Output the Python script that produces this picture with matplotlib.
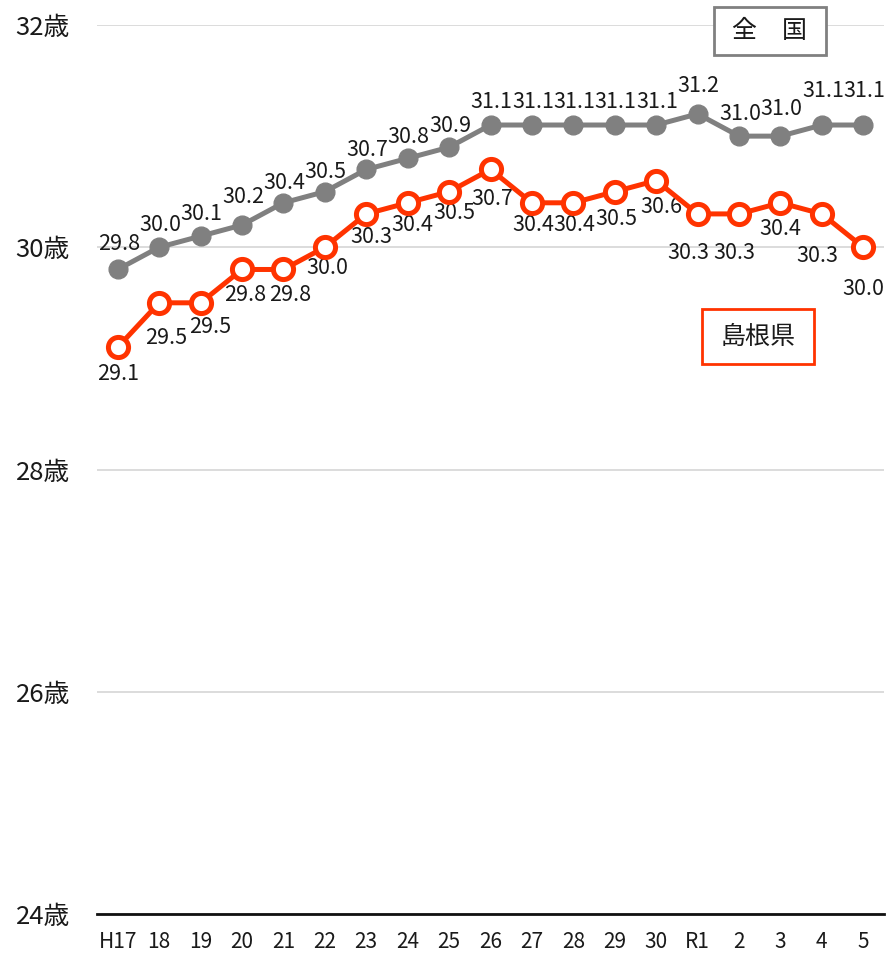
import matplotlib
matplotlib.use("Agg")
import matplotlib.pyplot as plt
from matplotlib.ticker import FixedLocator
from matplotlib.patches import Rectangle

plt.rcParams['font.family'] = ['Noto Sans CJK JP', 'DejaVu Sans']

categories = ["H17", "18", "19", "20", "21", "22", "23", "24", "25", "26",
              "27", "28", "29", "30", "R1", "2", "3", "4", "5"]
national = [29.8, 30.0, 30.1, 30.2, 30.4, 30.5, 30.7, 30.8, 30.9, 31.1,
            31.1, 31.1, 31.1, 31.1, 31.2, 31.0, 31.0, 31.1, 31.1]
shimane = [29.1, 29.5, 29.5, 29.8, 29.8, 30.0, 30.3, 30.4, 30.5, 30.7,
           30.4, 30.4, 30.5, 30.6, 30.3, 30.3, 30.4, 30.3, 30.0]
yticks = [24, 26, 28, 30, 32]
ytick_labels = ["24歳", "26歳", "28歳", "30歳", "32歳"]

# label offsets (pixels) for placement of data labels
nat_dy = [25, 22, 22, 28, 20, 20, 19, 21, 21, 23, 23, 23, 23, 23, 28, 22, 27, 34, 34]
shi_dy = [27, 35, 24, 26, 26, 21, 23, 22, 21, 30, 22, 22, 27, 26, 39, 39, 26, 42, 42]
shi_dx = [0, 7, 10, 3, 7, 2, 5, 5, 5, 2, 1, 1, 2, 5, -9, -5, 0, -5, 0]

W, H = 893, 958
DPI = 100
fig = plt.figure(figsize=(W / DPI, H / DPI), dpi=DPI)
ax = fig.add_axes([97 / W, 1 - 914 / H, (884 - 97) / W, (914 - 25) / H])

x = list(range(len(categories)))
ax.set_xlim(-0.5, len(categories) - 0.5)
ax.set_ylim(24, 32)

gray = "#808080"
red = "#FF3300"
txt = "#1a1a1a"
px = 72 / DPI

ax.plot(x, national, color=gray, lw=3.6, marker='o', ms=13.5, mfc=gray,
        mec=gray, zorder=3, clip_on=False)
ax.plot(x, shimane, color=red, lw=3.6, marker='o', ms=14.5, mfc='white',
        mec=red, mew=3.6, zorder=4, clip_on=False)

for xi, v, dy in zip(x, national, nat_dy):
    ax.annotate(f"{v:.1f}", (xi, v), xytext=(1 * px, dy * px),
                textcoords='offset points', ha='center', va='center',
                fontsize=15.5, color=txt)

for xi, v, dy, dx in zip(x, shimane, shi_dy, shi_dx):
    ax.annotate(f"{v:.1f}", (xi, v), xytext=(dx * px, -dy * px),
                textcoords='offset points', ha='center', va='center',
                fontsize=15.5, color=txt)

ax.yaxis.set_major_locator(FixedLocator(yticks))
ax.set_yticklabels(ytick_labels, fontsize=18.5, color=txt)
ax.set_xticks(x)
ax.set_xticklabels(categories, fontsize=15, color=txt)
ax.tick_params(axis='both', length=0)
ax.tick_params(axis='y', pad=19.5)
ax.tick_params(axis='x', pad=12)

ax.grid(axis='y', color='#d9d9d9', lw=1.3, zorder=0)
for s in ['top', 'right', 'left']:
    ax.spines[s].set_visible(False)
ax.spines['bottom'].set_color('#111111')
ax.spines['bottom'].set_linewidth(2)
ax.spines['bottom'].set_zorder(5)

# legend boxes (pixel geometry)
def label_box(x0, y0, x1, y1, text, ec):
    r = Rectangle((x0 / W, 1 - y1 / H), (x1 - x0) / W, (y1 - y0) / H,
                  transform=fig.transFigure, fc='white', ec=ec, lw=2, zorder=10)
    fig.add_artist(r)
    fig.text((x0 + x1) / 2 / W, 1 - (y0 + y1) / 2 / H, text, ha='center',
             va='center', fontsize=18, color=txt, zorder=11)

label_box(714, 7, 826, 55, "全　国", gray)
label_box(702, 309, 814, 364, "島根県", red)

fig.savefig("out.png", dpi=DPI)
